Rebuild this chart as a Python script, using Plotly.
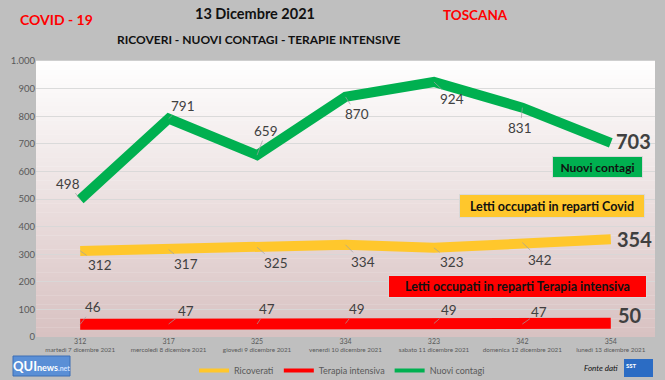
import plotly.graph_objects as go

# ---- data ----
giorni = ["martedì 7 dicembre 2021", "mercoledì 8 dicembre 2021", "giovedì 9 dicembre 2021",
          "venerdì 10 dicembre 2021", "sabato 11 dicembre 2021", "domenica 12 dicembre 2021",
          "lunedì 13 dicembre 2021"]
ricoverati = [312, 317, 325, 334, 323, 342, 354]
terapia_intensiva = [46, 47, 47, 49, 49, 47, 50]
nuovi_contagi = [498, 791, 659, 870, 924, 831, 703]
serie_nomi = ["Ricoverati", "Terapia intensiva", "Nuovi contagi"]
y_tickvals = [0, 100, 200, 300, 400, 500, 600, 700, 800, 900, 1000]
y_ticktext = ["0", "100", "200", "300", "400", "500", "600", "700", "800", "900", "1.000"]

# label offsets (pixels) relative to each point
off_green = [(-12, -16), (14, -13), (9, -24), (11, 17), (18, 17), (-2, 20)]
off_yellow = [(20, 14), (17, 14), (19, 16), (17, 17), (18, 14), (18, 17)]
off_red = [(13, -17), (17, -13), (10, -15), (11, -14), (15, -13), (17, -12)]

FONT = "Lato, 'Open Sans', sans-serif"
GREEN = "#00b050"
YELLOW = "#ffc72c"
RED = "#ff0000"
BG = "#bfbfbf"

xcats = [f"<span style='font-size:7px'>{r}</span><br>{g}" for r, g in zip(ricoverati, giorni)]

fig = go.Figure()
series = [(ricoverati, YELLOW, 10), (terapia_intensiva, RED, 11), (nuovi_contagi, GREEN, 10)]
for (vals, col, w), nm in zip(series, serie_nomi):
    fig.add_trace(go.Scatter(x=xcats, y=vals, mode="lines", name=nm, showlegend=False,
                             line=dict(color=col, width=w)))
# legend entries (thin line samples like the original)
for (vals, col, w), nm in zip(series, serie_nomi):
    fig.add_trace(go.Scatter(x=[None], y=[None], mode="lines", name=nm, showlegend=True,
                             line=dict(color=col, width=4)))

shapes = []
# gradient background of plot area
n = 60
top = (255, 255, 255)
bot = (216, 193, 193)
for i in range(n):
    t = (i + 0.5) / n
    c = tuple(int(round(top[k] + (bot[k] - top[k]) * t)) for k in range(3))
    shapes.append(dict(type="rect", xref="x domain", yref="y domain",
                       x0=0, x1=1, y0=1 - (i + 1) / n, y1=1 - i / n + 0.001,
                       fillcolor=f"rgb{c}", line=dict(width=0), layer="below"))

annotations = []
def lab(xi, yv, text, off, size=13.5, bold=False, acol="#a0a0a0"):
    annotations.append(dict(
        x=xcats[xi], y=yv, xref="x", yref="y",
        text=f"<b>{text}</b>" if bold else text,
        showarrow=True, arrowhead=0, arrowwidth=0.7, arrowcolor=acol, standoff=0,
        ax=off[0], ay=off[1],
        font=dict(family=FONT, size=size, color="#404040")))

for i in range(6):
    lab(i, nuovi_contagi[i], str(nuovi_contagi[i]), off_green[i])
    lab(i, ricoverati[i], str(ricoverati[i]), off_yellow[i])
    lab(i, terapia_intensiva[i], str(terapia_intensiva[i]), off_red[i])
lab(6, nuovi_contagi[6], nuovi_contagi[6], (23, -2), size=20, bold=True, acol="rgba(0,0,0,0)")
lab(6, ricoverati[6], ricoverati[6], (24, 0), size=20, bold=True, acol="rgba(0,0,0,0)")
lab(6, terapia_intensiva[6], terapia_intensiva[6], (19, -8), size=20, bold=True, acol="rgba(0,0,0,0)")

def px2paper(px, py):
    return (px - 36) / 619, (337 - py) / 276

# coloured legend boxes
def box(x0, y0, x1, y1, text, fill, size=12.5):
    a0 = px2paper(x0, y0)
    a1 = px2paper(x1, y1)
    annotations.append(dict(
        x=(a0[0] + a1[0]) / 2, y=(a0[1] + a1[1]) / 2, xref="paper", yref="paper",
        xanchor="center", yanchor="middle", showarrow=False,
        text=f"<b>{text}</b>", width=x1 - x0 - 2, height=y1 - y0 - 2,
        bgcolor=fill, bordercolor="#d8d8d8", borderwidth=1, borderpad=0,
        font=dict(family=FONT, size=size, color="#111111")))

box(552, 156, 643, 178, "Nuovi contagi", GREEN, 12)
box(459, 194, 645, 218, "Letti occupati in reparti Covid", YELLOW)
box(388, 275, 647, 298, "Letti occupati in reparti Terapia intensiva", RED)

# titles
def txt(px, py, text, size, color, bold=True, italic=False, anchor="center"):
    x, y = px2paper(px, py)
    t = text
    if bold:
        t = f"<b>{t}</b>"
    if italic:
        t = f"<i>{t}</i>"
    annotations.append(dict(x=x, y=y, xref="paper", yref="paper", showarrow=False,
                            xanchor=anchor, yanchor="middle", text=t,
                            font=dict(family=FONT, size=size, color=color)))

txt(56, 19, "COVID - 19", 14, "#ff0000")
txt(255, 14, "13 Dicembre 2021", 14.5, "#111111")
txt(259, 39, "RICOVERI - NUOVI CONTAGI - TERAPIE INTENSIVE", 12, "#111111")
txt(475, 15, "TOSCANA", 13.5, "#ff0000")
txt(601, 368, "Fonte dati", 8, "#111111", bold=False, italic=True)

# logos
qx0, qy0 = px2paper(13, 356)
qx1, qy1 = px2paper(70, 376)
shapes.append(dict(type="rect", xref="paper", yref="paper", x0=qx0, x1=qx1, y0=qy1, y1=qy0,
                   fillcolor="#5a8fd6", line=dict(color="#3d6fb5", width=1)))
annotations.append(dict(x=(qx0 + qx1) / 2, y=(qy0 + qy1) / 2, xref="paper", yref="paper",
                        showarrow=False, xanchor="center", yanchor="middle",
                        text="<b><span style='font-size:13px'>QUI</span>news<span style='font-size:7px;color:#cfe0ff'>.net</span></b>",
                        font=dict(family=FONT, size=9, color="white")))
sx0, sy0 = px2paper(624, 359)
sx1, sy1 = px2paper(653, 377)
shapes.append(dict(type="rect", xref="paper", yref="paper", x0=sx0, x1=sx1, y0=sy1, y1=sy0,
                   fillcolor="#2b6cc4", line=dict(width=0)))
annotations.append(dict(x=(sx0 + sx1) / 2 - 0.012, y=(sy0 + sy1) / 2 + 0.01, xref="paper", yref="paper",
                        showarrow=False, xanchor="center", yanchor="middle",
                        text="<b>SST</b>", font=dict(family=FONT, size=6, color="white")))

lx, ly = px2paper(342, 356)
fig.update_layout(
    width=665, height=380,
    margin=dict(l=36, r=10, t=61, b=43, autoexpand=False),
    paper_bgcolor=BG, plot_bgcolor="white",
    font=dict(family=FONT, color="#595959"),
    shapes=shapes, annotations=annotations,
    showlegend=True,
    legend=dict(orientation="h", x=lx, xanchor="center", y=ly, yanchor="top",
                bgcolor="rgba(0,0,0,0)", font=dict(family=FONT, size=9, color="#595959"),
                itemwidth=30, tracegroupgap=0),
    xaxis=dict(type="category", range=[-0.5, 6.5], showgrid=False, zeroline=False,
               showline=False, ticks="", tickfont=dict(family=FONT, size=6.3, color="#595959"),
               tickangle=0, fixedrange=True),
    yaxis=dict(range=[0, 1000], tickvals=y_tickvals, ticktext=y_ticktext,
               showgrid=True, gridcolor="rgba(215,215,215,0.9)", gridwidth=1,
               zeroline=False, showline=False, ticks="",
               tickfont=dict(family=FONT, size=9.5, color="#595959"), fixedrange=True),
)

fig.write_html("out.html", config={"displayModeBar": False},
               post_script="document.body.style.margin='0';document.body.style.overflow='hidden';")
